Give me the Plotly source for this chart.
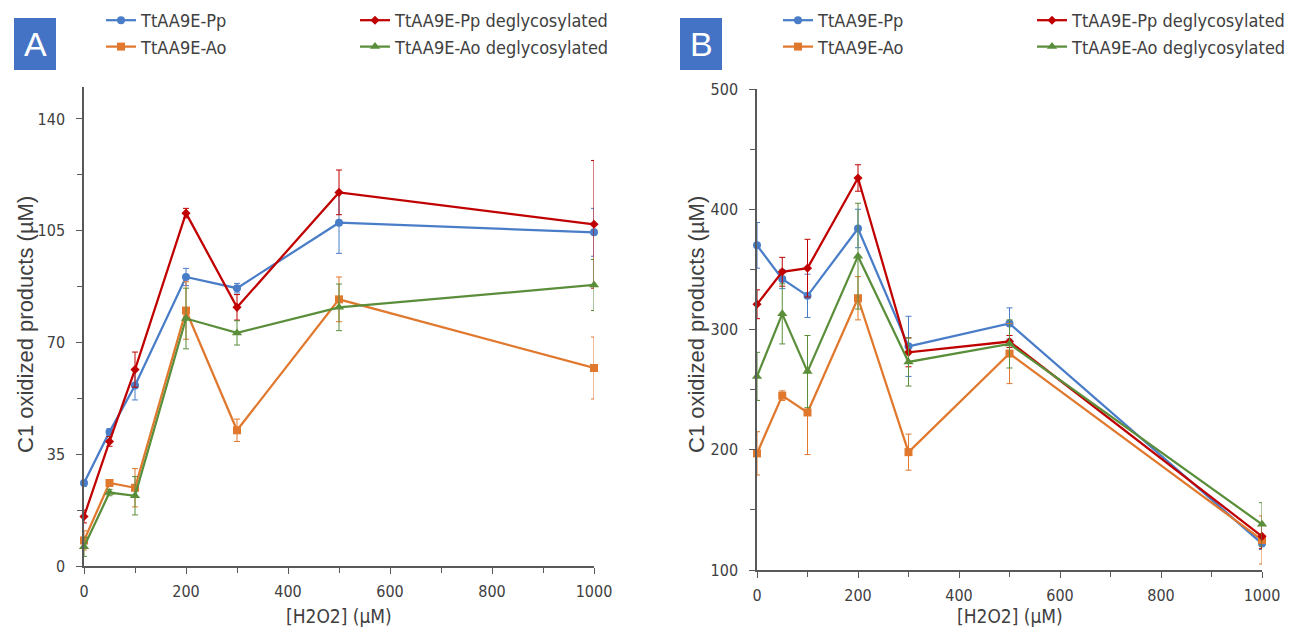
import plotly.graph_objects as go

W, H = 1291, 633

x_h2o2 = [0, 50, 100, 200, 300, 500, 1000]

# Panel A values (µM)
a_pp = [26, 42, 56.5, 90.5, 87, 107.5, 104.5]
a_pp_err = [1, 1, 4.5, 2.7, 1.5, 9.6, 7.5]
a_ppd = [15.5, 39, 61.5, 110.5, 81, 117, 107]
a_ppd_err = [2, 1.5, 5.5, 1.5, 4, 7, 20]
a_ao = [8, 26, 24.5, 80, 42.5, 83.5, 62]
a_ao_err = [3, 1, 6, 9, 3.5, 7, 9.7]
a_aod = [6, 23, 22, 77.5, 73, 81, 88]
a_aod_err = [3, 1, 6, 9.5, 3.8, 7.3, 8]

# Panel B values (µM)
b_pp = [370, 342, 328, 384, 286, 305, 122]
b_pp_err = [19, 8, 18, 16, 25, 13, 5]
b_ppd = [321, 348, 351, 426, 281, 290, 128]
b_ppd_err = [12, 12, 24, 11, 12, 5, 10]
b_ao = [197, 245, 231, 326, 198, 280, 125]
b_ao_err = [18, 4, 35, 18, 15, 25, 20]
b_aod = [261, 313, 265, 361, 273, 288, 138]
b_aod_err = [20, 25, 30, 44, 20, 20, 18]

names = ["TtAA9E-Pp", "TtAA9E-Pp deglycosylated", "TtAA9E-Ao", "TtAA9E-Ao deglycosylated"]
colors = ["#4A7DC8", "#C00000", "#E0782E", "#5A8E3A"]
symbols = ["circle", "diamond", "square", "triangle-up"]
msizes = [8, 7, 8, 9]

COND = "DejaVu Sans Condensed, Liberation Sans, sans-serif"
TXT = "#404040"

fig = go.Figure()

panels = [
    ("x", "y", [a_pp, a_ppd, a_ao, a_aod], [a_pp_err, a_ppd_err, a_ao_err, a_aod_err], ["legend", "legend2", "legend", "legend2"]),
    ("x2", "y2", [b_pp, b_ppd, b_ao, b_aod], [b_pp_err, b_ppd_err, b_ao_err, b_aod_err], ["legend3", "legend4", "legend3", "legend4"]),
]
order = [0, 2, 1, 3]
for xa, ya, vals, errs, legs in panels:
    for i in order:
        fig.add_trace(go.Scatter(
            x=x_h2o2, y=vals[i], name=names[i], xaxis=xa, yaxis=ya,
            mode="lines+markers", legend=legs[i],
            line=dict(color=colors[i], width=2.25),
            marker=dict(color=colors[i], symbol=symbols[i], size=msizes[i], line=dict(width=0)),
            error_y=dict(type="data", array=errs[i], visible=True, color=colors[i], thickness=1, width=3),
            cliponaxis=False,
        ))

def px_x(p):
    return p / W

def px_y(p):
    return 1 - p / H

axis_common = dict(
    showline=True, linecolor="#595959", linewidth=1.5, showgrid=False, zeroline=False,
    ticks="outside", ticklen=6, tickwidth=1.2, tickcolor="#595959",
    tickfont=dict(family=COND, size=16, color=TXT),
)

fig.update_layout(
    width=W, height=H, margin=dict(l=0, r=0, t=0, b=0, autoexpand=False),
    paper_bgcolor="white", plot_bgcolor="white",
    xaxis=dict(domain=[px_x(84), px_x(594)], range=[0, 1000], dtick=200, tick0=0, anchor="y",
               minor=dict(ticks="outside", dtick=100, ticklen=5, tickcolor="#595959"),
               ticklabelstandoff=4, **axis_common),
    yaxis=dict(domain=[px_y(566), px_y(87)], range=[0, 150], dtick=35, tick0=0, anchor="x",
               minor=dict(ticks="outside", dtick=17.5, ticklen=5, tickcolor="#595959"),
               ticklabelstandoff=8, **axis_common),
    xaxis2=dict(domain=[px_x(757), px_x(1262)], range=[0, 1000], dtick=200, tick0=0, anchor="y2",
                minor=dict(ticks="outside", dtick=100, ticklen=5, tickcolor="#595959"),
                ticklabelstandoff=4, **axis_common),
    yaxis2=dict(domain=[px_y(570), px_y(89)], range=[100, 500], dtick=100, tick0=0, anchor="x2",
                minor=dict(ticks="outside", dtick=50, ticklen=5, tickcolor="#595959"),
                ticklabelstandoff=8, **axis_common),
    showlegend=True,
)

leg_common = dict(orientation="v", yanchor="top", y=px_y(2), xanchor="left",
                  bgcolor="rgba(0,0,0,0)", font=dict(family=COND, size=18, color=TXT),
                  tracegroupgap=0, itemclick=False, itemdoubleclick=False)
fig.update_layout(
    legend=dict(x=px_x(142 - 41), **leg_common),
    legend2=dict(x=px_x(396 - 41), **leg_common),
    legend3=dict(x=px_x(819 - 41), **leg_common),
    legend4=dict(x=px_x(1073 - 41), **leg_common),
)

# Panel label boxes
for lbl, x0, x1 in [("A", 14, 56), ("B", 680, 722)]:
    fig.add_shape(type="rect", xref="paper", yref="paper",
                  x0=px_x(x0), x1=px_x(x1), y0=px_y(70), y1=px_y(18),
                  fillcolor="#4472C4", line=dict(width=0))
    fig.add_annotation(text=lbl, xref="paper", yref="paper", x=px_x((x0 + x1) / 2), y=px_y(44),
                       showarrow=False, xanchor="center", yanchor="middle",
                       font=dict(family="Liberation Sans, Arial, sans-serif", size=34, color="white"))

# Axis titles
for cx in [25, 696]:
    fig.add_annotation(text="C1 oxidized products (µM)", xref="paper", yref="paper",
                       x=px_x(cx), y=px_y(325), showarrow=False, textangle=-90,
                       xanchor="center", yanchor="middle",
                       font=dict(family="Liberation Sans, Arial, sans-serif", size=22, color=TXT))
for cx in [339, 1010]:
    fig.add_annotation(text="[H2O2] (µM)", xref="paper", yref="paper",
                       x=px_x(cx), y=px_y(616), showarrow=False,
                       xanchor="center", yanchor="middle",
                       font=dict(family=COND, size=19, color=TXT))

fig.write_html("out.html")
